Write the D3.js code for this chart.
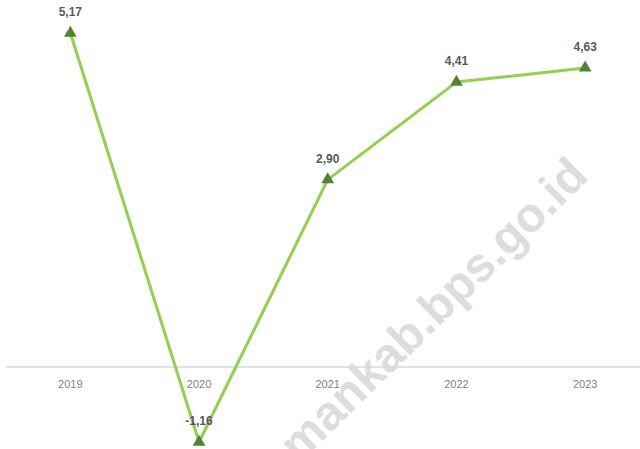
<!DOCTYPE html>
<html>
<head>
<meta charset="utf-8">
<script src="https://cdn.jsdelivr.net/npm/d3@7/dist/d3.min.js"></script>
<style>
  html, body { margin: 0; padding: 0; background: #ffffff; }
  svg { display: block; }
</style>
</head>
<body>
<svg id="chart" width="640" height="449"></svg>
<script>
// Annual growth rate (%), 2019–2023
const years = ["2019", "2020", "2021", "2022", "2023"];
const growth = [5.17, -1.16, 2.90, 4.41, 4.63];
const valueLabels = ["5,17", "-1,16", "2,90", "4,41", "4,63"];

const width = 640, height = 449;
const svg = d3.select("#chart");

const x = d3.scaleBand()
  .domain(years)
  .range([6, 649.5])
  .paddingInner(0)
  .paddingOuter(0);

const y = d3.scaleLinear()
  .domain([-1.16, 5.17])
  .range([442, 33]);

const cx = d => x(d) + x.bandwidth() / 2;

// zero baseline
svg.append("line")
  .attr("x1", 6).attr("x2", width)
  .attr("y1", y(0)).attr("y2", y(0))
  .attr("stroke", "#d9d9d9")
  .attr("stroke-width", 1.5);

// category labels under the baseline
svg.append("g")
  .selectAll("text")
  .data(years)
  .join("text")
  .attr("x", d => cx(d))
  .attr("y", y(0) + 21)
  .attr("text-anchor", "middle")
  .attr("font-family", "'Liberation Sans Narrow', 'Liberation Sans', sans-serif")
  .attr("font-size", 11)
  .attr("fill", "#7f7f7f")
  .text(d => d);

const pts = years.map((yr, i) => ({ yr, v: growth[i], label: valueLabels[i] }));

// series line
svg.append("path")
  .datum(pts)
  .attr("fill", "none")
  .attr("stroke", "#92d050")
  .attr("stroke-width", 3)
  .attr("stroke-linejoin", "round")
  .attr("d", d3.line().x(d => cx(d.yr)).y(d => y(d.v)));

// triangle markers
svg.append("g")
  .selectAll("path")
  .data(pts)
  .join("path")
  .attr("transform", d => `translate(${cx(d.yr)},${y(d.v)})`)
  .attr("d", d3.symbol().type(d3.symbolTriangle).size(70))
  .attr("fill", "#548235");

// value labels above markers
svg.append("g")
  .selectAll("text")
  .data(pts)
  .join("text")
  .attr("x", d => cx(d.yr))
  .attr("y", d => y(d.v) - 17)
  .attr("text-anchor", "middle")
  .attr("font-family", "'Liberation Sans Narrow', 'Liberation Sans', sans-serif")
  .attr("font-weight", "bold")
  .attr("font-size", 12)
  .attr("fill", "#595959")
  .text(d => d.label);

// site watermark
svg.append("text")
  .attr("transform", "translate(590,178) rotate(-44.5)")
  .attr("text-anchor", "end")
  .attr("font-family", "'Liberation Sans', Arial, sans-serif")
  .attr("font-weight", "bold")
  .attr("font-size", 48)
  .attr("fill", "#d9d9d9")
  .attr("fill-opacity", 0.9)
  .text("pasamankab.bps.go.id");
</script>
</body>
</html>
